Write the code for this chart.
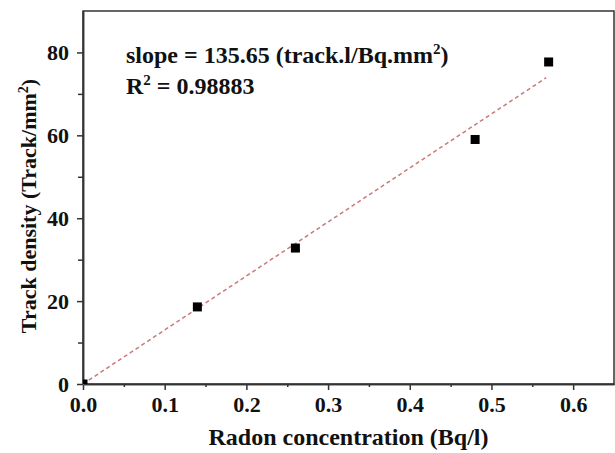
<!DOCTYPE html>
<html lang="en">
  <head>
    <meta charset="utf-8" />
    <title>Track density vs radon concentration</title>
    <script src="https://cdn.jsdelivr.net/npm/d3@7"></script>
    <style type="text/css">
      body {
        margin: 0;
        background: #fff;
      }
      text {
        font-family: "Liberation Serif", "DejaVu Serif", serif;
        font-weight: bold;
        fill: #111;
      }
    </style>
  </head>
  <body>
    <div id="chart"></div>
    <script type="text/javascript">
      /*******************************************
       * data
       *******************************************/

      const radon = [0, 0.14, 0.26, 0.48, 0.57];
      const trackDensity = [0, 18.6, 32.8, 59, 77.7];

      // fitted line as drawn in the figure
      const fitX = [0, 0.567];
      const fitY = [0, 73.9];

      const xTicks = [0, 0.1, 0.2, 0.3, 0.4, 0.5, 0.6];
      const yTicks = [0, 20, 40, 60, 80];

      /********************************************
       * svg
       ********************************************/

      const width = 615;
      const height = 453;
      const margin = { top: 11, right: 1, bottom: 69, left: 83 };

      const svg = d3
        .select("div#chart")
        .append("svg")
        .attr("width", width)
        .attr("height", height);

      /*********************************************
       * scales
       **********************************************/

      const xScale = d3
        .scaleLinear()
        .domain([0, 0.65])
        .range([margin.left, width - margin.right]);

      const yScale = d3
        .scaleLinear()
        .domain([0, 90])
        .range([height - margin.bottom, margin.top]);

      /*******************************************
       * axes
       *******************************************/

      const xAxis = d3
        .axisBottom(xScale)
        .tickValues(xTicks)
        .tickFormat(d3.format(".1f"))
        .tickSizeInner(6)
        .tickSizeOuter(0)
        .tickPadding(6);

      const yAxis = d3
        .axisLeft(yScale)
        .tickValues(yTicks)
        .tickFormat(d3.format("d"))
        .tickSizeInner(6)
        .tickSizeOuter(0)
        .tickPadding(8);

      // minor ticks
      const xMinor = d3
        .axisBottom(xScale)
        .tickValues(d3.range(0.05, 0.65, 0.1))
        .tickSizeInner(3)
        .tickSizeOuter(0)
        .tickFormat("");

      const yMinor = d3
        .axisLeft(yScale)
        .tickValues(d3.range(10, 90, 20))
        .tickSizeInner(5)
        .tickSizeOuter(0)
        .tickFormat("");

      // frame
      svg
        .append("rect")
        .attr("x", margin.left)
        .attr("y", margin.top)
        .attr("width", width - margin.left - margin.right)
        .attr("height", height - margin.top - margin.bottom)
        .attr("fill", "none")
        .attr("stroke", "#333")
        .attr("stroke-width", 1.5);

      const gx = svg
        .append("g")
        .attr("class", "x axis")
        .attr("transform", `translate(0, ${height - margin.bottom})`)
        .call(xAxis);

      svg
        .append("g")
        .attr("transform", `translate(0, ${height - margin.bottom})`)
        .call(xMinor);

      const gy = svg
        .append("g")
        .attr("class", "y axis")
        .attr("transform", `translate(${margin.left}, 0)`)
        .call(yAxis);

      svg
        .append("g")
        .attr("transform", `translate(${margin.left}, 0)`)
        .call(yMinor);

      svg.selectAll(".domain").attr("stroke", "#333").attr("stroke-width", 1.5);
      svg.selectAll(".tick line").attr("stroke", "#333").attr("stroke-width", 1.5);
      gx.selectAll(".tick text").attr("font-size", 22).attr("fill", "#111");
      gy.selectAll(".tick text").attr("font-size", 22).attr("fill", "#111");

      // axis titles
      svg
        .append("text")
        .attr("x", (margin.left + width - margin.right) / 2)
        .attr("y", 445)
        .attr("text-anchor", "middle")
        .attr("font-size", 24)
        .text("Radon concentration (Bq/l)");

      const yTitle = svg
        .append("text")
        .attr("transform", `translate(36, 206) rotate(-90)`)
        .attr("text-anchor", "middle")
        .attr("font-size", 22);
      yTitle.append("tspan").text("Track density (Track/mm");
      yTitle.append("tspan").attr("dy", -8).attr("font-size", 14).text("2");
      yTitle.append("tspan").attr("dy", 8).text(")");

      /*******************************************
       * fit line + points
       *******************************************/

      svg
        .append("clipPath")
        .attr("id", "plotClip")
        .append("rect")
        .attr("x", margin.left)
        .attr("y", margin.top)
        .attr("width", width - margin.left - margin.right)
        .attr("height", height - margin.top - margin.bottom);

      const line = d3
        .line()
        .x((d, i) => xScale(fitX[i]))
        .y((d, i) => yScale(fitY[i]));

      svg
        .append("path")
        .datum(fitX)
        .attr("d", line)
        .attr("fill", "none")
        .attr("stroke", "#c87a7a")
        .attr("stroke-width", 1.5)
        .attr("stroke-dasharray", "4,3");

      const size = 9;
      svg
        .append("g")
        .attr("clip-path", "url(#plotClip)")
        .selectAll("rect.pt")
        .data(radon)
        .enter()
        .append("rect")
        .attr("class", "pt")
        .attr("x", (d) => xScale(d) - size / 2)
        .attr("y", (d, i) => yScale(trackDensity[i]) - size / 2)
        .attr("width", size)
        .attr("height", size)
        .attr("fill", "#000");

      /*******************************************
       * annotation
       *******************************************/

      const note1 = svg
        .append("text")
        .attr("x", 126)
        .attr("y", 63)
        .attr("font-size", 24);
      note1.append("tspan").text("slope = 135.65 (track.l/Bq.mm");
      note1.append("tspan").attr("dy", -9).attr("font-size", 15).text("2");
      note1.append("tspan").attr("dy", 9).text(")");

      const note2 = svg
        .append("text")
        .attr("x", 126)
        .attr("y", 94)
        .attr("font-size", 24);
      note2.append("tspan").text("R");
      note2.append("tspan").attr("dy", -9).attr("font-size", 15).text("2");
      note2.append("tspan").attr("dy", 9).text(" = 0.98883");
    </script>
  </body>
</html>
